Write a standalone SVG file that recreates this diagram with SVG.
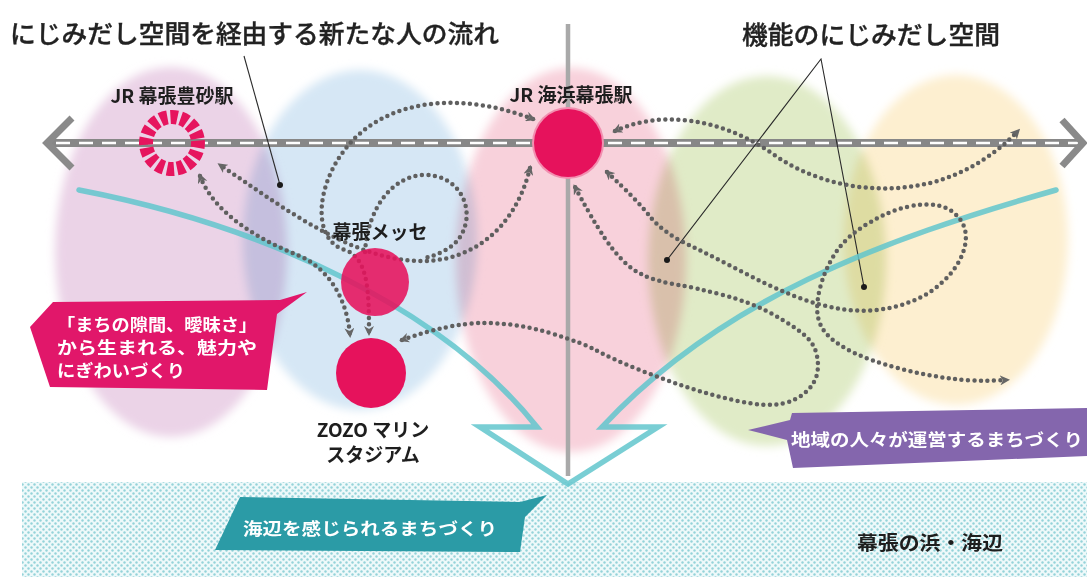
<svg xmlns="http://www.w3.org/2000/svg" width="1087" height="577" viewBox="0 0 1087 577">
  <defs>
    <style>
      .t { font-family: "Noto Sans CJK JP", "Noto Sans", sans-serif; }
      .title { font-size: 25px; font-weight: 500; fill: #222; stroke: #222; stroke-width: 0.35; }
      .lbl { font-size: 19px; font-weight: 700; fill: #1e1e1e; }
      .wt { font-size: 17px; font-weight: 700; fill: #ffffff; }
      .blob { filter: url(#soft); mix-blend-mode: multiply; }
      .flow { fill: none; stroke: #5f5f5f; stroke-width: 4.5; stroke-dasharray: 0 6.5; stroke-linecap: round; }
      .arrowed { marker-start: url(#ah); marker-end: url(#ah); }
      .leader { stroke: #2a2a2a; stroke-width: 1.1; fill: none; }
      .stn { fill: #e6125c; }
    </style>
    <filter id="soft" x="-20%" y="-20%" width="140%" height="140%">
      <feGaussianBlur stdDeviation="5"/>
    </filter>
    <pattern id="sea" width="6" height="6" patternUnits="userSpaceOnUse">
      <rect width="6" height="6" fill="#eef9fa"/>
      <circle cx="1.5" cy="1.5" r="1.2" fill="#94d3d9"/>
      <circle cx="4.5" cy="4.5" r="1.2" fill="#94d3d9"/>
    </pattern>
    <marker id="ah" viewBox="0 0 10 10" refX="7" refY="5" markerWidth="10" markerHeight="10" markerUnits="userSpaceOnUse" orient="auto-start-reverse">
      <path d="M0,0 L10,5 L0,10 L3,5 z" fill="#666666"/>
    </marker>
  </defs>

  <rect width="1087" height="577" fill="#ffffff"/>

  <!-- soft zones -->
  <g id="zones">
    <ellipse class="blob" cx="171" cy="252" rx="116" ry="185" fill="#ebd3e7"/>
    <ellipse class="blob" cx="360" cy="240" rx="117" ry="170" fill="#d6e7f5"/>
    <ellipse class="blob" cx="571" cy="260" rx="115" ry="192" fill="#f8d1db"/>
    <ellipse class="blob" cx="767" cy="261" rx="119" ry="185" fill="#e0ebc7"/>
    <ellipse class="blob" cx="956" cy="240" rx="112" ry="165" fill="#fdefd0"/>
  </g>

  <!-- sea -->
  <g id="sea-area">
    <rect x="22" y="482" width="1065" height="95" fill="url(#sea)"/>
  </g>

  <!-- axis lines -->
  <g id="axis">
    <line x1="568" y1="24" x2="568" y2="476" stroke="#a9a9a9" stroke-width="4.5"/>
    <line x1="48" y1="143" x2="1083" y2="143" stroke="#878787" stroke-width="8"/>
    <line x1="56" y1="143" x2="1078" y2="143" stroke="#ffffff" stroke-width="2.5" stroke-dasharray="14 9"/>
    <polyline points="72,118 47,143 72,168" fill="none" stroke="#8a8a8a" stroke-width="7"/>
    <polyline points="1062,120 1083,143 1062,166" fill="none" stroke="#8a8a8a" stroke-width="7"/>
  </g>

  <!-- leader lines -->
  <g id="leaders">
    <line class="leader" x1="244" y1="56" x2="280" y2="185"/>
    <circle cx="280" cy="185" r="3" fill="#1a1a1a"/>
    <polyline class="leader" points="667,260 821,59 864,287"/>
    <circle cx="667" cy="260" r="3" fill="#1a1a1a"/>
    <circle cx="864" cy="287" r="3" fill="#1a1a1a"/>
  </g>

  <!-- big teal arrow -->
  <g id="sea-arrow">
    <path d="M79,190 C260,225 440,305 537,427 L480,427 L568,484 L658,427 L602,427 C720,300 880,240 1056,190" fill="none" stroke="#62c6cd" stroke-width="5.5" stroke-opacity="0.85" stroke-linejoin="miter" stroke-linecap="round"/>
  </g>

  <!-- connectors: flows of people -->
  <g id="connectors">
    <path class="flow arrowed" d="M530,168 C515,230 470,262 420,261 C350,260 280,205 220,165"/>
    <path class="flow arrowed" d="M200,176 C215,215 260,240 300,256 C330,270 347,300 350,335"/>
    <path class="flow arrowed" d="M533,119 C470,95 400,95 355,138 C315,178 310,240 345,250 C368,258 369,290 369,333"/>
    <path class="flow" d="M365,252 C368,205 395,175 425,175 C455,175 470,200 466,222 C462,242 448,252 425,258"/>
    <path class="flow arrowed" d="M615,131 C660,110 720,118 770,152 C820,188 880,195 930,183 C970,173 1000,150 1018,131"/>
    <path class="flow arrowed" d="M607,172 Q637,200 649.5,216 Q662,232 688,244.5 Q714,257 740.5,271 Q767,285 793,295.5 Q819,306 845,309.5 Q871,313 897.5,306 Q924,299 941.5,283 Q959,267 964,249.5 Q969,232 960.5,220 Q952,208 938,205.5 Q924,203 906.5,207 Q889,211 868,223.5 Q847,236 836.5,251.5 Q826,267 821,284.5 Q816,302 817.5,314 Q819,326 827.5,335 Q836,344 853.5,352.5 Q871,361 897.5,368 Q924,375 950,378.5 Q976,382 1007,380"/>
    <path class="flow arrowed" d="M402,340 Q450,323 483.5,323 Q517,323 550,333 Q583,343 596.5,350.5 Q610,358 636,368.5 Q662,379 688,387.5 Q714,396 740.5,401.5 Q767,407 782.5,403.5 Q798,400 807,391 Q816,382 817.5,371.5 Q819,361 815.5,350.5 Q812,340 798,330 Q784,320 766.5,311 Q749,302 723,295 Q697,288 676,284.5 Q655,281 641,274 Q627,267 613,249.5 Q599,232 575,187"/>
  </g>

  <!-- stations / facilities -->
  <g id="station-toyosuna">
    <circle cx="172" cy="143" r="26" fill="none" stroke="#e6155e" stroke-width="14" stroke-dasharray="7 3.21" transform="rotate(-5 172 143)"/>
    <text class="t lbl" x="172" y="103" text-anchor="middle">JR 幕張豊砂駅</text>
  </g>
  <g id="station-kaihin">
    <circle cx="568" cy="143" r="36" fill="#f28fb0"/>
    <circle class="stn" cx="568" cy="143" r="34"/>
    <text class="t lbl" x="571" y="102" text-anchor="middle">JR 海浜幕張駅</text>
  </g>
  <g id="messe">
    <circle class="stn" cx="375" cy="282" r="34" fill-opacity="0.88"/>
    <text class="t lbl" x="380" y="239" text-anchor="middle">幕張メッセ</text>
  </g>
  <g id="zozo">
    <circle class="stn" cx="371" cy="373" r="35"/>
    <text class="t lbl" x="373" y="437" text-anchor="middle">ZOZO マリン</text>
    <text class="t lbl" x="373" y="462" text-anchor="middle">スタジアム</text>
  </g>

  <!-- titles -->
  <g id="title-flow">
    <text class="t title" x="10" y="43" textLength="489" lengthAdjust="spacingAndGlyphs">にじみだし空間を経由する新たな人の流れ</text>
  </g>
  <g id="title-function">
    <text class="t title" x="742" y="44" textLength="258" lengthAdjust="spacingAndGlyphs">機能のにじみだし空間</text>
  </g>

  <!-- callouts -->
  <g id="callout-pink">
    <polygon points="30,327 53,302 280,300 307,292 277,314 267,390 50,387" fill="#e1176a"/>
    <text class="t wt" x="57" y="331" textLength="200" lengthAdjust="spacingAndGlyphs">「まちの隙間、曖昧さ」</text>
    <text class="t wt" x="57" y="354" textLength="200" lengthAdjust="spacingAndGlyphs">から生まれる、魅力や</text>
    <text class="t wt" x="57" y="377" textLength="128" lengthAdjust="spacingAndGlyphs">にぎわいづくり</text>
  </g>
  <g id="callout-purple">
    <polygon points="792,413 1087,408 1087,456 793,468 787,440 748,430 790,420" fill="#8466ad"/>
    <text class="t wt" x="791" y="446" textLength="292" lengthAdjust="spacingAndGlyphs">地域の人々が運営するまちづくり</text>
  </g>
  <g id="callout-teal">
    <polygon points="240,497 520,502 547,495 525,517 520,552 215,550" fill="#2b9ba6"/>
    <text class="t wt" x="243" y="535" textLength="254" lengthAdjust="spacingAndGlyphs">海辺を感じられるまちづくり</text>
  </g>

  <g id="label-beach">
    <text class="t lbl" x="857" y="550" textLength="146" lengthAdjust="spacingAndGlyphs">幕張の浜・海辺</text>
  </g>
</svg>
